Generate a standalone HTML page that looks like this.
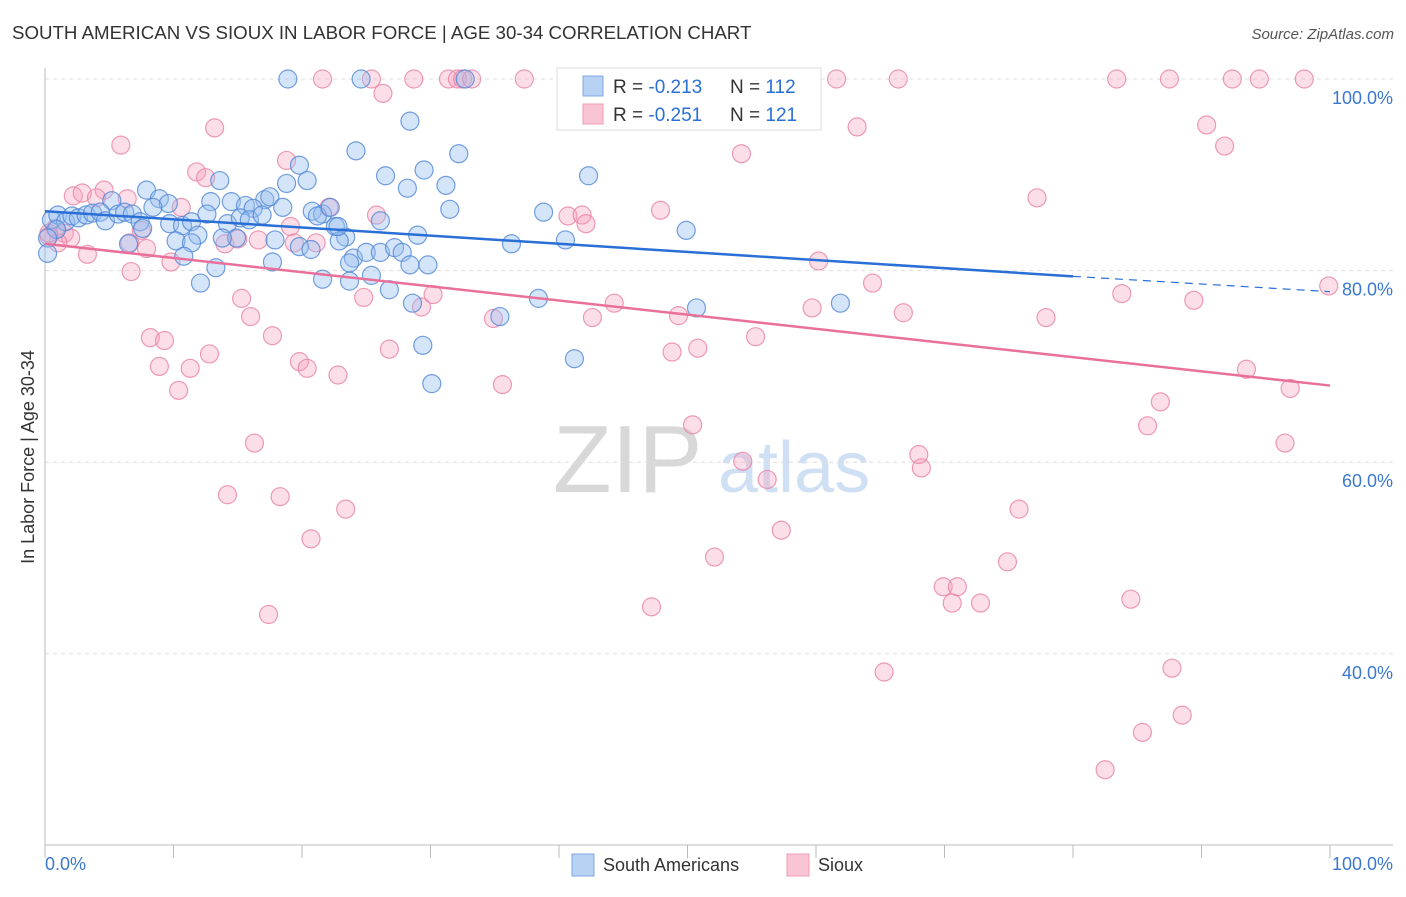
<!DOCTYPE html>
<html><head><meta charset="utf-8"><style>
body{margin:0;background:#fff;font-family:"Liberation Sans",sans-serif;}
svg text{font-family:"Liberation Sans",sans-serif;}
</style></head><body>
<svg id="chart" width="1406" height="892" xmlns="http://www.w3.org/2000/svg">
<text x="12" y="39" font-size="18.7" fill="#333">SOUTH AMERICAN VS SIOUX IN LABOR FORCE | AGE 30-34 CORRELATION CHART</text>
<text x="1394" y="39" font-size="15" fill="#555" font-style="italic" text-anchor="end">Source: ZipAtlas.com</text>
<g>
<text x="553" y="492" font-size="96" font-family="Liberation Serif" fill="#d8d8d8">ZIP</text>
<text x="718" y="492" font-size="72" fill="#cfe0f5">atlas</text>
</g>
<g id="grid"></g>
<g id="axes"></g>
<g id="marks"></g>
<g>
<rect x="557" y="68" width="264" height="62" fill="#fff" stroke="#ddd"/>
<rect x="583" y="76" width="20" height="20" fill="#b7d1f3" stroke="#7fa8e3"/>
<rect x="583" y="104" width="20" height="20" fill="#f9c4d3" stroke="#ee9bb6"/>
<text x="613" y="93" font-size="19" fill="#333">R = <tspan fill="#2a6fd6">-0.213</tspan></text>
<text x="730" y="93" font-size="19" fill="#333">N = <tspan fill="#2a6fd6">112</tspan></text>
<text x="613" y="121" font-size="19" fill="#333">R = <tspan fill="#2a6fd6">-0.251</tspan></text>
<text x="730" y="121" font-size="19" fill="#333">N = <tspan fill="#2a6fd6">121</tspan></text>
</g>
<g>
<rect x="572" y="854" width="22" height="22" fill="#b7d1f3" stroke="#7fa8e3"/>
<text x="603" y="871" font-size="18" fill="#333">South Americans</text>
<rect x="787" y="854" width="22" height="22" fill="#f9c4d3" stroke="#ee9bb6"/>
<text x="818" y="871" font-size="18" fill="#333">Sioux</text>
</g>
<text transform="translate(34,457) rotate(-90)" font-size="18" fill="#333" text-anchor="middle">In Labor Force | Age 30-34</text>
</svg>
<script>
const blueX=[18.9,24.6,32.7,28.4,24.2,32.2,19.8,26.5,29.5,42.3,13.6,20.4,18.8,28.2,31.2,7.9,8.9,5.2,9.6,12.9,14.5,15.6,17.1,17.5,16.2,18.5,20.8,21.6,21.2,22.2,31.5,38.8,49.9,0.5,1.0,1.6,2.1,2.6,3.2,3.7,4.3,4.7,5.7,6.2,6.8,7.4,8.4,9.7,10.7,11.4,12.6,14.2,15.2,15.9,16.9,14.9,13.8,11.9,10.2,11.4,10.8,6.5,7.6,0.9,0.2,0.2,17.9,19.8,20.7,22.6,23.4,22.9,24.0,23.7,25.0,26.1,27.2,27.8,29.0,26.1,28.4,29.8,25.4,23.7,21.6,12.1,13.3,17.7,26.8,28.6,36.3,40.5,38.4,35.4,50.7,61.9,29.4,41.2,30.1,22.8];
const blueY=[100,100,100,95.6,92.5,92.2,91.0,89.9,90.5,89.9,89.4,89.4,89.1,88.6,88.9,88.4,87.5,87.3,87.0,87.2,87.2,86.8,87.4,87.7,86.5,86.6,86.2,85.9,85.7,86.6,86.4,86.1,84.2,85.3,85.8,85.1,85.7,85.5,85.8,86.0,86.1,85.2,85.9,86.1,85.9,85.1,86.6,84.9,84.7,85.1,85.9,84.9,85.5,85.3,85.8,83.4,83.4,83.7,83.1,82.9,81.5,82.8,84.4,84.3,83.4,81.8,83.2,82.5,82.2,84.6,83.5,83.1,81.3,80.8,81.9,81.9,82.4,81.9,83.7,85.2,80.6,80.6,79.5,78.9,79.1,78.7,80.3,80.9,78.0,76.6,82.8,83.2,77.1,75.2,76.1,76.6,72.2,70.8,68.2,84.6];
const pinkX=[21.6,25.4,28.7,31.4,32.1,32.5,33.2,37.3,46.5,54.4,61.6,66.4,83.4,87.5,92.4,94.5,98.0,26.3,13.2,63.2,90.4,5.9,54.2,91.8,18.8,11.8,12.5,4.6,2.2,2.9,4.0,6.4,10.6,19.1,22.1,25.8,40.7,41.8,42.1,47.9,77.2,0.8,1.5,2.0,1.0,0.3,7.5,6.6,7.9,3.3,9.8,14.0,15.0,16.6,19.4,21.1,6.7,15.3,16.0,24.8,30.2,29.3,34.9,42.6,44.3,49.3,59.7,64.4,66.8,77.9,83.8,89.4,99.9,60.2,8.2,9.3,12.8,17.7,19.8,20.4,22.8,26.8,48.8,50.8,55.3,8.9,11.3,10.4,35.6,93.5,96.9,50.4,86.8,85.8,96.5,16.3,54.3,56.2,68.0,68.2,14.2,18.3,23.4,75.8,20.7,57.3,52.1,74.9,69.9,71.0,70.6,72.8,84.5,47.2,17.4,65.3,87.7,88.5,85.4,82.5,0.3];
const pinkY=[100,100,100,100,100,100,100,100,100,100,100,100,100,100,100,100,100,98.5,94.9,95.0,95.2,93.1,92.2,93.0,91.5,90.3,89.7,88.4,87.8,88.1,87.6,87.5,86.6,84.6,86.6,85.8,85.7,85.8,84.9,86.3,87.6,84.4,83.9,83.4,82.9,83.6,84.2,82.9,82.3,81.7,80.9,82.8,83.3,83.2,82.9,82.9,79.9,77.1,75.2,77.2,77.5,76.2,75.0,75.1,76.6,75.3,76.1,78.7,75.6,75.1,77.6,76.9,78.4,81.0,73.0,72.7,71.3,73.2,70.5,69.8,69.1,71.8,71.5,71.9,73.1,70.0,69.8,67.5,68.1,69.7,67.7,63.9,66.3,63.8,62.0,62.0,60.1,58.2,60.8,59.4,56.6,56.4,55.1,55.1,52.0,52.9,50.1,49.6,47.0,47.0,45.3,45.3,45.7,44.9,44.1,38.1,38.5,33.6,31.8,27.9,83.9];
const blueTrend=[86.2,79.4,77.8]; // y at x=0, 80, 100
const pinkTrend=[82.8,68.0];       // y at x=0, 100
const yTicks=[100,80,60,40];
const yTickLabels=["100.0%","80.0%","60.0%","40.0%"];

const NS="http://www.w3.org/2000/svg";
const sx=v=>45+v*12.85;
const sy=v=>79+(100-v)*9.58;
function mk(tag,attrs,parent){const e=document.createElementNS(NS,tag);for(const k in attrs)e.setAttribute(k,attrs[k]);parent.appendChild(e);return e;}
const grid=document.getElementById('grid'),axes=document.getElementById('axes'),marks=document.getElementById('marks');
yTicks.forEach((t,i)=>{
  const l=mk('line',{x1:45,x2:1393,y1:sy(t),y2:sy(t),stroke:'#ddd','stroke-dasharray':'4,4'},grid);
  
  
  const tx=mk('text',{x:1393,y:sy(t)+25,'font-size':18,fill:'#3a78d0','text-anchor':'end'},axes);
  tx.textContent=yTickLabels[i];
  
  
});
const ax=mk('path',{d:'M45 68 V845 H1393',fill:'none',stroke:'#bbb'},axes);


for(let i=0;i<=10;i++){const t=mk('line',{x1:sx(i*10),x2:sx(i*10),y1:845,y2:858,stroke:'#bbb'},axes);

}
const x0=mk('text',{x:45,y:870,'font-size':18,fill:'#3a78d0'},axes);x0.textContent='0.0%';


const x1=mk('text',{x:1393,y:870,'font-size':18,fill:'#3a78d0','text-anchor':'end'},axes);x1.textContent='100.0%';


pinkX.forEach((v,i)=>{const c=mk('circle',{cx:sx(v),cy:sy(pinkY[i]),r:9,fill:'rgba(245,160,188,0.35)',stroke:'rgba(232,130,165,0.8)','stroke-width':1.2},marks);

});
blueX.forEach((v,i)=>{const c=mk('circle',{cx:sx(v),cy:sy(blueY[i]),r:9,fill:'rgba(150,190,240,0.4)',stroke:'rgba(80,135,215,0.8)','stroke-width':1.2},marks);

});
const bl=mk('line',{x1:sx(0),y1:sy(blueTrend[0]),x2:sx(80),y2:sy(blueTrend[1]),stroke:'#2a6fd6','stroke-width':2.5},marks);


const bd=mk('line',{x1:sx(80),y1:sy(blueTrend[1]),x2:sx(100),y2:sy(blueTrend[2]),stroke:'#2a6fd6','stroke-width':1.2,'stroke-dasharray':'8,6'},marks);


const pl=mk('line',{x1:sx(0),y1:sy(pinkTrend[0]),x2:sx(100),y2:sy(pinkTrend[1]),stroke:'#e8709a','stroke-width':2.5},marks);


</script>
</body></html>
